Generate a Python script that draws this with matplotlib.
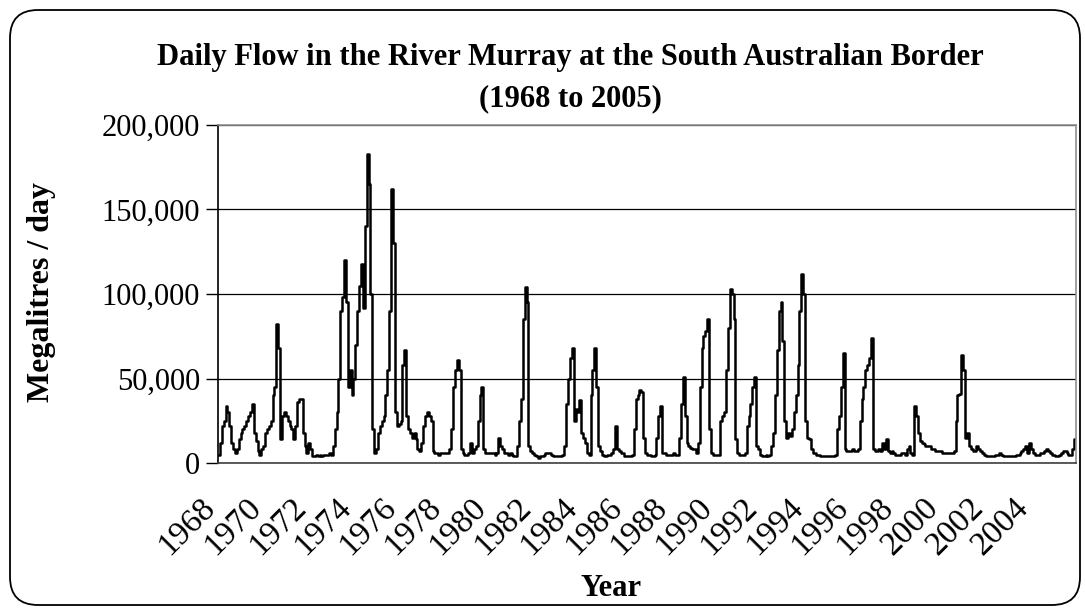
import numpy as np
import matplotlib
matplotlib.use("Agg")
from matplotlib import pyplot as plt
from matplotlib.patches import FancyBboxPatch
from matplotlib.ticker import FuncFormatter
from matplotlib.transforms import ScaledTranslation

plt.rcParams['font.family'] = ['Liberation Serif', 'DejaVu Serif']

# monthly flow (thousand ML/day), Jan..Dec per row
flow_1968_1969 = [
    5, 12, 22, 25, 34, 30, 22, 12, 8, 6, 8, 14,
    18, 20, 22, 25, 28, 30, 35, 18, 13, 7, 5, 8,
]
flow_1970s = [
    10, 18, 20, 22, 25, 40, 45, 82, 68, 14, 28, 30,
    28, 25, 22, 20, 14, 22, 36, 38, 38, 18, 10, 6,
    12, 8, 4, 4, 5, 4, 5, 4, 5, 5, 5, 6,
    5, 10, 20, 30, 50, 90, 98, 120, 95, 45, 55, 40,
    50, 70, 90, 105, 118, 92, 140, 183, 165, 100, 20, 6,
    8, 18, 22, 25, 28, 40, 55, 90, 162, 130, 30, 22,
    23, 25, 58, 67, 28, 20, 18, 15, 18, 14, 8, 7,
    12, 22, 28, 30, 28, 25, 7, 6, 6, 5, 6, 6,
    6, 6, 6, 8, 20, 45, 55, 61, 55, 8, 6, 5,
    5, 6, 12, 6, 8, 10, 25, 40, 45, 8, 6, 6,
]
flow_1980s = [
    6, 6, 6, 5, 6, 15, 10, 8, 6, 6, 5, 6,
    5, 4, 4, 10, 25, 38, 85, 104, 95, 10, 7, 6,
    5, 4, 3, 4, 4, 5, 6, 6, 6, 5, 4, 4,
    4, 4, 4, 5, 10, 35, 50, 62, 68, 25, 32, 30,
    37, 18, 15, 12, 6, 5, 40, 55, 68, 45, 10, 7,
    5, 4, 4, 5, 5, 6, 8, 22, 8, 7, 6, 6,
    4, 4, 4, 4, 5, 20, 38, 40, 43, 42, 15, 6,
    5, 5, 4, 4, 5, 15, 28, 34, 6, 6, 5, 5,
    5, 5, 6, 5, 5, 15, 35, 51, 28, 12, 10, 9,
    8, 8, 6, 12, 45, 68, 75, 78, 85, 20, 6, 5,
]
flow_1990s = [
    5, 5, 5, 25, 28, 30, 55, 80, 103, 100, 85, 14,
    6, 5, 5, 5, 6, 22, 28, 35, 45, 51, 10, 8,
    5, 4, 4, 5, 4, 5, 10, 18, 40, 67, 90, 95,
    72, 25, 15, 18, 16, 20, 30, 40, 58, 90, 112, 100,
    25, 15, 14, 8, 6, 6, 5, 5, 4, 4, 4, 4,
    4, 4, 4, 4, 5, 20, 28, 45, 65, 8, 7, 7,
    7, 8, 7, 7, 8, 25, 38, 45, 55, 58, 62, 74,
    8, 7, 7, 8, 7, 12, 8, 14, 7, 6, 7, 6,
    5, 5, 5, 6, 6, 5, 8, 10, 6, 5, 34, 28,
    18, 13, 12, 11, 10, 10, 10, 8, 8, 7, 7, 7,
]
flow_2000s = [
    7, 6, 6, 6, 6, 6, 6, 7, 25, 40, 41, 64,
    55, 15, 18, 10, 8, 7, 7, 10, 8, 7, 6, 5,
    4, 4, 4, 4, 4, 5, 5, 6, 5, 4, 4, 4,
    4, 4, 4, 4, 5, 5, 6, 7, 8, 10, 6, 12,
    8, 6, 5, 5, 5, 6, 6, 7, 8, 7, 6, 5,
    5, 4, 4, 5, 6, 7, 7, 6, 5, 5, 8, 14,
]
first_year = 1968
tick_years = list(range(1968, 2005, 2))

flow = np.array(flow_1968_1969 + flow_1970s + flow_1980s + flow_1990s + flow_2000s) * 1000
months = first_year + (np.arange(len(flow)) + 0.5) / 12.0

fig = plt.figure(figsize=(10.85, 6.09), dpi=100)
ax = fig.add_axes([218 / 1085, 146 / 609, 858 / 1085, 338 / 609])

ax.plot(months, flow, color='black', lw=1.8, drawstyle='steps-mid')

ax.set_xlim(first_year, 2006)
ax.set_ylim(0, 200000)
ax.set_yticks(np.arange(0, 200001, 50000))
ax.yaxis.set_major_formatter(FuncFormatter(lambda v, p: f"{int(v):,}"))
ax.set_xticks(tick_years)
ax.tick_params(axis='x', length=0, pad=8)
ax.tick_params(axis='y', length=9, width=1, direction='out', labelsize=22, pad=4)
ax.set_xticklabels([str(y) for y in tick_years], rotation=45, ha='right',
                   rotation_mode='anchor', fontsize=24)
# push the slanted year labels down-left, as in the original
shift = ScaledTranslation(-18 / 100, -18 / 100, fig.dpi_scale_trans)
for lab in ax.get_xticklabels():
    lab.set_transform(lab.get_transform() + shift)
ax.grid(axis='y', color='black', lw=0.9)
ax.set_axisbelow(True)

ax.spines['left'].set_color('black')
ax.spines['bottom'].set_color('#404040')
ax.spines['top'].set_color('#909090')
ax.spines['right'].set_color('#909090')
for s in ax.spines.values():
    s.set_linewidth(1.2)

fig.text(570 / 1085, 1 - 57 / 609, 'Daily Flow in the River Murray at the South Australian Border',
         ha='center', va='center', fontsize=22, fontweight='bold')
fig.text(570 / 1085, 1 - 99 / 609, '(1968 to 2005)',
         ha='center', va='center', fontsize=22, fontweight='bold')
fig.text(42 / 1085, 1 - 292 / 609, 'Megalitres / day', rotation=90,
         ha='center', va='center', fontsize=23, fontweight='bold')
fig.text(611 / 1085, 1 - 588 / 609, 'Year',
         ha='center', va='center', fontsize=22, fontweight='bold')

border = FancyBboxPatch((10, 4), 1070, 595, boxstyle='round,pad=0,rounding_size=28',
                        transform=None, fill=False, edgecolor='black', lw=1.3)
fig.patches.append(border)

fig.savefig('out.png', dpi=100)
